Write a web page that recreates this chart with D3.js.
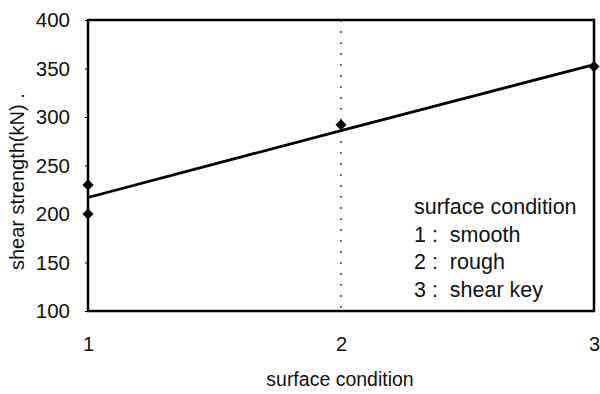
<!DOCTYPE html>
<html>
<head>
<meta charset="utf-8">
<script src="https://cdn.jsdelivr.net/npm/d3@7"></script>
<style>
  body { margin: 0; background: #fff; }
  svg { display: block; font-family: "Liberation Sans", Arial, sans-serif; }
</style>
</head>
<body>
<svg id="chart"></svg>
<script>
const width = 600, height = 394;

// measured points (surface condition, shear strength)
const conditions = [1, 1, 2, 3];
const strengths = [230, 200, 292, 352];

// fitted line
const trendX = [1, 2, 3];
const trendY = [217, 286, 354];

const xTicks = [1, 2, 3];
const yTicks = [100, 150, 200, 250, 300, 350, 400];
const legendLines = ['surface condition', '1 :  smooth', '2 :  rough', '3 :  shear key'];

const margin = { top: 20, right: 6, bottom: 83, left: 88 };

const svg = d3.select('#chart')
  .attr('width', width)
  .attr('height', height);

const x = d3.scaleLinear().domain([1, 3]).range([margin.left, width - margin.right]);
const y = d3.scaleLinear().domain([100, 400]).range([height - margin.bottom, margin.top]);

// dotted line at condition 2
svg.append('line')
  .attr('x1', x(2)).attr('x2', x(2))
  .attr('y1', y(400)).attr('y2', y(100))
  .attr('stroke', '#222')
  .attr('stroke-width', 1.3)
  .attr('stroke-dasharray', '2,9');

// y axis ticks + labels
const yAxis = svg.append('g')
  .attr('transform', `translate(${margin.left},0)`)
  .call(d3.axisLeft(y).tickValues(yTicks).tickSize(3).tickPadding(15));
yAxis.select('.domain').remove();
yAxis.selectAll('text')
  .attr('font-size', 20.5)
  .attr('fill', '#111')
  .attr('font-family', '"Liberation Sans", Arial, sans-serif');

// x axis labels
const xAxis = svg.append('g')
  .attr('transform', `translate(0,${y(100)})`)
  .call(d3.axisBottom(x).tickValues(xTicks).tickFormat(d3.format('d')).tickSize(0).tickPadding(26));
xAxis.select('.domain').remove();
xAxis.selectAll('text')
  .attr('font-size', 20)
  .attr('fill', '#111')
  .attr('font-family', '"Liberation Sans", Arial, sans-serif');

// frame
svg.append('rect')
  .attr('x', x(1)).attr('y', y(400))
  .attr('width', x(3) - x(1))
  .attr('height', y(100) - y(400))
  .attr('fill', 'none')
  .attr('stroke', '#000')
  .attr('stroke-width', 2.5);

// trend line
svg.append('path')
  .datum(trendX.map((d, i) => [d, trendY[i]]))
  .attr('fill', 'none')
  .attr('stroke', '#000')
  .attr('stroke-width', 2.8)
  .attr('d', d3.line().x(d => x(d[0])).y(d => y(d[1])));

// diamonds
svg.selectAll('.pt')
  .data(conditions.map((d, i) => [d, strengths[i]]))
  .enter()
  .append('path')
  .attr('class', 'pt')
  .attr('transform', d => `translate(${x(d[0])},${y(d[1])})`)
  .attr('d', d3.symbol().type(d3.symbolDiamond2).size(80))
  .attr('fill', '#000');

// legend text
svg.append('g')
  .selectAll('text')
  .data(legendLines)
  .enter()
  .append('text')
  .attr('x', 414)
  .attr('y', (_, i) => 214 + i * 27.5)
  .attr('font-size', 21.5)
  .attr('fill', '#111')
  .style('white-space', 'pre')
  .text(d => d);

// axis titles
svg.append('text')
  .attr('x', 340)
  .attr('y', 386)
  .attr('text-anchor', 'middle')
  .attr('font-size', 19.5)
  .attr('fill', '#111')
  .text('surface condition');

svg.append('text')
  .attr('transform', 'translate(24,270) rotate(-90)')
  .attr('text-anchor', 'start')
  .attr('font-size', 20)
  .attr('fill', '#111')
  .text('shear strength(kN) .');
</script>
</body>
</html>
